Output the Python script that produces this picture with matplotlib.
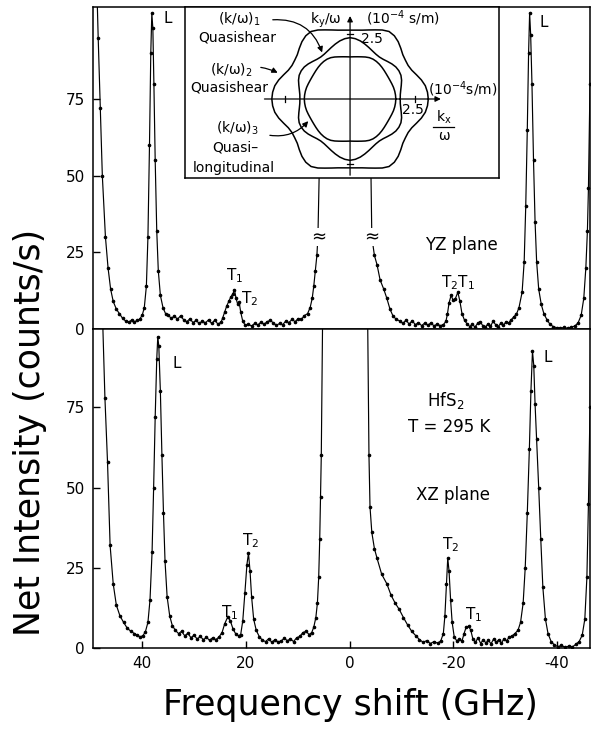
import numpy as np
import matplotlib
matplotlib.use("Agg")
import matplotlib.pyplot as plt

# ---- YZ plane spectrum (upper panel), frequency shift (GHz) and counts/s
yz_freq = [49.2, 48.5, 48.1, 47.7, 47.1, 46.6, 46.1, 45.6, 45.0, 44.4, 43.8, 43.2, 42.6, 42.0,
           41.5, 41.0, 40.5, 40.0, 39.6, 39.2, 38.9, 38.6, 38.35, 38.15, 37.95, 37.75, 37.5,
           37.2, 36.9, 36.5, 36.0, 35.5, 35.0, 34.4, 33.8, 33.2, 32.6, 32.0, 31.4, 30.8, 30.2,
           29.6, 29.0, 28.4, 27.8, 27.2, 26.6, 26.0, 25.4, 24.8, 24.5, 24.1, 23.7, 23.3, 22.9,
           22.5, 22.2, 21.9, 21.6, 21.3, 21.0, 20.6, 20.1, 19.5, 18.9, 18.3, 17.7, 17.1, 16.5,
           15.9, 15.3, 14.7, 14.1, 13.5, 12.9, 12.3, 11.7, 11.1, 10.5, 9.9, 9.3, 8.7, 8.1, 7.6,
           7.2, 6.9, 6.6, 6.3, 6.1, 5.8, 5.4, 0.8, -3.9, -4.1, -4.3, -4.8, -5.3, -5.9, -6.6,
           -7.2, -7.8, -8.4, -9.0, -9.7, -10.3, -10.9, -11.5, -12.1, -12.7, -13.3, -13.9, -14.5,
           -15.1, -15.7, -16.3, -16.9, -17.5, -18.1, -18.6, -18.9, -19.2, -19.6, -20.0, -20.4,
           -20.9, -21.3, -21.7, -22.2, -22.7, -23.2, -23.7, -24.2, -24.7, -25.2, -25.7, -26.2,
           -26.7, -27.2, -27.7, -28.2, -28.7, -29.2, -29.7, -30.2, -30.7, -31.2, -31.7, -32.2,
           -32.7, -33.3, -33.7, -34.0, -34.3, -34.55, -34.75, -34.95, -35.2, -35.5, -35.8,
           -36.1, -36.5, -37.0, -37.5, -38.1, -38.7, -39.3, -40.0, -40.7, -41.4, -42.1, -42.8,
           -43.5, -44.1, -44.7, -45.2, -45.6, -45.9, -46.1, -46.4, -46.8]
yz_counts = [140, 95, 72, 50, 30, 20, 13, 9, 6.5, 5, 3.5, 2.6, 2.2, 3.0,
             2.3, 2.8, 3.2, 4.5, 7, 14, 30, 60, 90, 103, 98, 80, 55,
             32, 19, 11, 7, 5, 4.5, 3.5, 4.2, 3.2, 4.3, 3.0, 2.4, 3.3, 2.1,
             2.8, 1.8, 2.6, 2.0, 3.0, 1.8, 2.9, 1.6, 2.2, 3.5, 5.5, 7.5, 9, 10.5,
             11.5, 12.8, 10, 8.2, 8.8, 5.5, 2.5, 1.2, 1.5, 1.0, 1.8, 1.3, 2.2, 1.5,
             2.4, 2.8, 2.0, 1.2, 1.8, 1.4, 2.6, 2.1, 3.1, 2.4, 3.4, 3.1, 4.4, 5, 7,
             10, 14, 19, 24, 30, 55, 106, 500, 106, 55, 30, 24, 21, 16, 13,
             10, 6.5, 4.2, 3.2, 2.6, 1.8, 2.9, 1.6, 2.7, 1.4, 2.1, 1.1, 1.9,
             1.2, 2.0, 1.0, 1.6, 1.1, 1.4, 2.5, 5, 8.5, 11, 9.3, 9.8,
             12, 9, 5, 2.8, 1.6, 0.8, 1.6, 0.6, 1.8, 2.4, 1.1, 0.5,
             1.7, 0.9, 2.5, 1.4, 0.8, 1.9, 1.2, 2.4, 2.0, 3.0, 4.0, 4.8,
             7, 12, 22, 40, 65, 90, 103, 96, 80, 55, 35,
             22, 13, 8, 5, 3, 1.5, 0.8, 0.4, 0.3, 0.5, 0.2, 0.6,
             1.0, 2, 4.5, 10, 20, 32, 46, 80, 140]

# ---- XZ plane spectrum (lower panel)
xz_freq = [48.3, 47.6, 47.2, 46.7, 46.2, 45.6, 45.0, 44.3, 43.6, 42.9, 42.2, 41.5, 41.0, 40.4,
           39.9, 39.4, 38.9, 38.5, 38.1, 37.8, 37.5, 37.2, 37.0, 36.8, 36.5, 36.2, 35.9, 35.6,
           35.2, 34.7, 34.2, 33.6, 33.0, 32.4, 31.8, 31.2, 30.6, 30.0, 29.4, 28.8, 28.2, 27.6,
           27.0, 26.4, 25.8, 25.2, 24.6, 24.1, 23.5, 23.0, 22.5, 22.0, 21.4, 21.0, 20.6, 20.2,
           19.8, 19.5, 19.2, 18.9, 18.5, 18.0, 17.4, 16.8, 16.2, 15.6, 15.0, 14.4, 13.8, 13.2,
           12.6, 12.0, 11.4, 10.8, 10.2, 9.6, 9.0, 8.4, 7.8, 7.3, 6.9, 6.5, 6.2, 5.95, 5.75,
           5.6, 5.45, 5.2, 0.8, -3.5, -3.75, -3.95, -4.3, -4.8, -5.3, -6.2, -7.2, -8.0, -8.8,
           -9.6, -10.4, -11.2, -12.0, -12.8, -13.5, -14.2, -14.9, -15.6, -16.3, -17.0, -17.6,
           -18.1, -18.4, -18.7, -18.95, -19.2, -19.5, -19.8, -20.2, -20.7, -21.2, -21.7, -22.1,
           -22.5, -23.0, -23.4, -23.8, -24.3, -24.8, -25.3, -25.8, -26.3, -26.8, -27.3, -27.8,
           -28.3, -28.8, -29.3, -29.8, -30.3, -30.8, -31.4, -31.9, -32.5, -33.0, -33.5, -33.9,
           -34.3, -34.7, -35.0, -35.3, -35.55, -35.8, -36.1, -36.5, -36.9, -37.3, -37.8, -38.3,
           -38.9, -39.5, -40.2, -40.9, -41.6, -42.3, -43.0, -43.7, -44.3, -44.9, -45.4, -45.8,
           -46.1, -46.4, -46.8]
xz_counts = [130, 100, 78, 58, 32, 20, 13.4, 10, 8, 6.2, 5.2, 4.5, 4, 3.5,
             3.8, 5, 8, 15, 30, 50, 72, 90, 97, 94, 80, 60, 42, 27,
             16, 10, 7, 5.5, 4.5, 5.2, 3.8, 4.6, 3.2, 4.0, 2.8, 3.6, 2.6, 3.3,
             2.4, 3.2, 2.6, 3.4, 4.8, 7.5, 9.7, 8.5, 6, 4.5, 3.8, 4.2, 8.5, 17,
             26, 29.5, 24, 16, 9, 5.5, 3.5, 2.4, 2.0, 2.9, 1.8, 2.6, 1.9, 2.2,
             3.0, 2.3, 2.8, 2.0, 3.2, 3.6, 4.8, 5.2, 4.2, 4.8, 6.5, 9.5, 14, 22, 34,
             47, 60, 102, 500, 102, 60, 44, 36, 31, 28, 23, 20, 16.5, 14,
             12, 9.5, 7.2, 5.2, 3.8, 2.6, 1.8, 2.3, 1.4, 2.0, 1.5, 2.2,
             4.5, 10, 20, 28, 24, 15, 8, 3.5, 2.2, 2.8, 2.2, 4.5,
             6.5, 6.8, 5.5, 2.8, 1.8, 3.2, 1.4, 2.6, 1.6, 2.4, 1.3, 2.8,
             1.8, 2.6, 1.5, 2.9, 2.2, 3.4, 3.8, 4.5, 5.5, 8, 14, 25,
             42, 62, 80, 92.5, 88, 76, 65, 50, 34, 19, 9, 4.5,
             2, 1, 0.4, 0.8, 0.2, 0.6, 0.3, 1.2, 2, 4, 9, 22,
             45, 75, 140]

freq_ticks = [40, 20, 0, -20, -40]
count_ticks = [0, 25, 50, 75]

# ---- inset: slowness curves, radius (1e-4 s/m) every 5 deg over one quadrant
inset_angles = np.arange(0, 91, 5)
r_shear1 = [3.01, 2.99, 2.94, 2.84, 2.72, 2.62, 2.58, 2.60, 2.65, 2.76,
            2.88, 2.97, 3.00, 2.93, 2.83, 2.75, 2.69, 2.66, 2.65]
r_shear2 = [1.93, 1.94, 1.98, 2.04, 2.11, 2.16, 2.17, 2.15, 2.10, 2.04,
            1.99, 1.97, 1.99, 2.04, 2.11, 2.19, 2.27, 2.33, 2.36]
r_long = [1.76, 1.755, 1.745, 1.73, 1.71, 1.695, 1.69, 1.695, 1.71, 1.73,
          1.75, 1.765, 1.77, 1.755, 1.72, 1.68, 1.65, 1.63, 1.62]

fig = plt.figure(figsize=(5.92, 7.29), dpi=100)
ax_yz = fig.add_axes([93 / 592, 1 - 329 / 729, 497 / 592, 322 / 729])
ax_xz = fig.add_axes([93 / 592, 1 - 648 / 729, 497 / 592, 319 / 729])

for ax, f, c, top in [(ax_yz, yz_freq, yz_counts, 105), (ax_xz, xz_freq, xz_counts, 99.4)]:
    ax.plot(f, c, '-', color='k', lw=0.85, marker='o', ms=1.6, mfc='k', mec='k')
    ax.set_xlim(49.5, -46.4)
    ax.set_ylim(0, top)
    ax.set_yticks(count_ticks)
    ax.tick_params(direction='in', length=5, width=1, labelsize=11, pad=6)
    for s in ax.spines.values():
        s.set_linewidth(1.1)

ax_yz.tick_params(bottom=False, labelbottom=False)
ax_xz.set_xticks(freq_ticks)
ax_xz.set_xticklabels(['40', '20', '0', '-20', '-40'])

fig.text(30 / 592, 1 - 432 / 729, 'Net Intensity (counts/s)', rotation=90,
         fontsize=25, ha='center', va='center')
fig.text(350 / 592, 1 - 705 / 729, 'Frequency shift (GHz)', fontsize=25,
         ha='center', va='center')

# peak labels
lab = dict(fontsize=11, ha='center', va='center')
sub1 = 'T$_\\mathregular{1}$'
sub2 = 'T$_\\mathregular{2}$'
ax_yz.text(35.0, 101.4, 'L', **lab)
ax_yz.text(-37.5, 100, 'L', **lab)
ax_yz.text(22.1, 17.3, sub1, **lab)
ax_yz.text(19.2, 9.8, sub2, **lab)
ax_yz.text(-20.9, 15, sub2 + sub1, **lab)
ax_yz.text(-21.5, 27.4, 'YZ plane', fontsize=12, ha='center', va='center')
for fx in (5.9, -4.3):
    ax_yz.text(fx, 30, '\u2248', fontsize=13, ha='center', va='center',
               bbox=dict(facecolor='white', edgecolor='none', pad=0.2))

ax_xz.text(33.4, 88.8, 'L', **lab)
ax_xz.text(-38.3, 90.4, 'L', **lab)
ax_xz.text(23.2, 10.9, sub1, **lab)
ax_xz.text(19.0, 33.3, sub2, **lab)
ax_xz.text(-19.4, 32.1, sub2, **lab)
ax_xz.text(-24.0, 10.3, sub1, **lab)
ax_xz.text(-18.6, 77, 'HfS$_\\mathregular{2}$', fontsize=12, ha='center', va='center')
ax_xz.text(-19.2, 68.9, 'T = 295 K', fontsize=12, ha='center', va='center')
ax_xz.text(-20.0, 47.7, 'XZ plane', fontsize=12, ha='center', va='center')

# ---- inset
ins = fig.add_axes([185 / 592, 1 - 178 / 729, 314 / 592, 171 / 729], zorder=5)
ins.set_facecolor('white')
ins.set_xlim(-6.35, 5.73)
ins.set_ylim(-3.04, 3.54)
ins.set_xticks([])
ins.set_yticks([])
for s in ins.spines.values():
    s.set_linewidth(1.1)

q = np.asarray(inset_angles, dtype=float)
ang = np.concatenate([q, 180 - q[::-1], 180 + q, 360 - q[::-1]])
for rq in (r_shear1, r_shear2, r_long):
    rq = np.asarray(rq)
    r = np.concatenate([rq, rq[::-1], rq, rq[::-1]])
    t = np.deg2rad(ang)
    ins.plot(r * np.cos(t), r * np.sin(t), color='k', lw=1.1)

arrow_ax = dict(arrowstyle='-|>', color='k', lw=0.9, mutation_scale=8)
ins.annotate('', xy=(3.6, 0), xytext=(-3.4, 0), arrowprops=arrow_ax)
ins.annotate('', xy=(0, 3.3), xytext=(0, -3.04), arrowprops=arrow_ax)
for v in (-2.5, 2.5):
    ins.plot([v, v], [-0.1, 0.1], color='k', lw=0.9)
    ins.plot([-0.1, 0.1], [v, v], color='k', lw=0.9)

it = dict(fontsize=10, ha='center', va='center')
ins.text(-4.27, 3.06, '(k/\u03c9)$_\\mathregular{1}$', **it)
ins.text(-4.35, 2.38, 'Quasishear', **it)
ins.text(-4.58, 1.12, '(k/\u03c9)$_\\mathregular{2}$', **it)
ins.text(-4.65, 0.46, 'Quasishear', **it)
ins.text(-4.35, -1.12, '(k/\u03c9)$_\\mathregular{3}$', **it)
ins.text(-4.42, -1.85, 'Quasi\u2013', **it)
ins.text(-4.46, -2.65, 'longitudinal', **it)
ins.text(-0.92, 3.04, 'k$_\\mathregular{y}$/\u03c9', **it)
ins.text(2.04, 3.1, '(10$^\\mathregular{-4}$ s/m)', **it)
ins.text(0.85, 2.31, '2.5', **it)
ins.text(2.42, -0.42, '2.5', **it)
ins.text(4.35, 0.38, '(10$^\\mathregular{-4}$s/m)', **it)
ins.text(3.6, -0.69, 'k$_\\mathregular{x}$', **it)
ins.plot([3.2, 4.0], [-1.08, -1.08], color='k', lw=0.9)
ins.text(3.6, -1.42, '\u03c9', **it)

pointer = dict(arrowstyle='-|>', color='k', lw=0.9, mutation_scale=8)
ins.annotate('', xy=(-1.04, 1.69), xytext=(-3.08, 3.04),
             arrowprops=dict(pointer, connectionstyle='arc3,rad=-0.4'))
ins.annotate('', xy=(-2.69, 0.96), xytext=(-3.54, 1.23),
             arrowprops=dict(pointer, connectionstyle='arc3,rad=-0.1'))
ins.annotate('', xy=(-1.54, -0.77), xytext=(-3.19, -1.38),
             arrowprops=dict(pointer, connectionstyle='arc3,rad=0.3'))

fig.savefig('out.png', dpi=100)
